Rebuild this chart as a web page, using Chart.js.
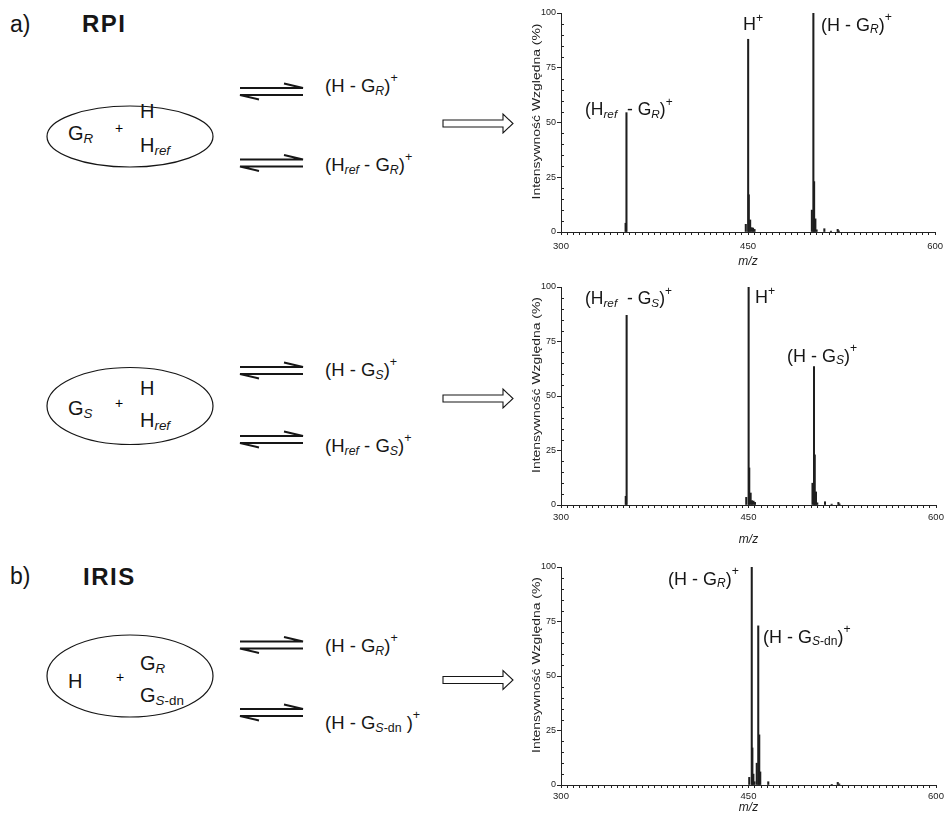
<!DOCTYPE html>
<html><head><meta charset="utf-8">
<title>RPI / IRIS</title>
<script src="https://cdn.jsdelivr.net/npm/chart.js@4.4.1/dist/chart.umd.min.js"></script>
<style>
html,body{margin:0;padding:0;background:#fff;}
body{width:949px;height:817px;position:relative;overflow:hidden;font-family:"Liberation Sans",Arial,Helvetica,sans-serif;color:#161616;}
canvas{position:absolute;}
.t{position:absolute;white-space:nowrap;line-height:1;}
.s{font-size:0.67em;font-style:italic;position:relative;top:0.2em;}
.n{font-style:normal;}
.u{font-size:0.68em;position:relative;top:-0.8em;}
.u2{font-size:0.68em;position:relative;top:-0.62em;}
.g{margin-left:5px;}
svg{position:absolute;left:0;top:0;}
</style></head><body>
<svg width="949" height="817" xmlns="http://www.w3.org/2000/svg">
  <g fill="none" stroke="#161616" stroke-width="1.2">
    <ellipse cx="130" cy="136.5" rx="83" ry="30.5"/>
    <ellipse cx="130" cy="406" rx="83" ry="38.5"/>
    <ellipse cx="130" cy="676" rx="83" ry="41"/>
  </g>
  <g fill="none" stroke="#161616" stroke-width="2">
    <path d="M240 88H303L284 83.5"/><path d="M303 95H240L259 99.5"/>
    <path d="M240 159.5H303L284 155"/><path d="M303 166.5H240L259 171"/>
    <path d="M240 367H303L284 362.5"/><path d="M303 374H240L259 378.5"/>
    <path d="M240 436H303L284 431.5"/><path d="M303 443H240L259 447.5"/>
    <path d="M240 641.5H303L284 637"/><path d="M303 648.5H240L259 653"/>
    <path d="M240 709H303L284 704.5"/><path d="M303 716H240L259 720.5"/>
  </g>
  <g fill="#fff" stroke="#161616" stroke-width="1.1">
    <path d="M443 120H503V114L513 123.5L503 133V127H443Z"/>
    <path d="M443 395H503V389L513 398.5L503 408V402H443Z"/>
    <path d="M443 676.5H503V670.5L513 680L503 689.5V683.5H443Z"/>
  </g>
</svg>
<canvas id="c1" width="429" height="270" style="left:520px;top:0px"></canvas>
<canvas id="c2" width="429" height="273" style="left:520px;top:275px"></canvas>
<canvas id="c3" width="429" height="262" style="left:520px;top:555px"></canvas>
<script>
// ---- chart data ----
const MZ_MIN = 300, MZ_MAX = 600;
const xTickLabels = [300, 450, 600];
const yTickLabels = [0, 25, 50, 75, 100];
const yTitle = 'Intensywność Względna (%)';
const xTitle = 'm/z';

// RPI, G_R : (Href-GR)+, H+, (H-GR)+ clusters
const rpiR_mz  = [351.8, 352.5, 448.2, 450.1, 450.6, 451.7, 452.8, 454.0, 455.2, 501.2, 502.4, 503.0, 504.0, 505.0, 511.2, 516.5, 521.9, 522.8];
const rpiR_int = [4,     54.5,  3.5,   88,    17,    5.5,   2,     1.8,   1.2,   10,    100,   23,    6,     1,     1.5,   0.4,   1.2,   0.5];
// RPI, G_S
const rpiS_mz  = [351.8, 352.5, 448.2, 450.1, 450.6, 451.7, 452.8, 454.0, 455.2, 501.2, 502.4, 503.0, 504.0, 505.0, 511.2, 516.5, 521.9, 522.8];
const rpiS_int = [4,     87,    3.5,   100,   17,    5.5,   2,     1.8,   1.2,   10,    63.5,  23,    6,     1,     1.5,   0.4,   1.2,   0.5];
// IRIS : (H-GR)+, (H-GS-dn)+
const iris_mz  = [450.6, 452.6, 453.1, 453.9, 454.8, 456.6, 457.8, 458.6, 459.4, 465.8, 516.6, 521.4, 522.6];
const iris_int = [3.5,   100,   17,    5,     1.5,   10,    73,    23,    6,     1.5,   0.3,   1.2,   0.5];

// ---- text labels (x, baseline, font size, html, extra css) ----
const labelDefs = [
  [10, 32, 23, 'a)'],
  [82, 32, 24, 'RPI', 'font-weight:bold;letter-spacing:1.5px'],
  [68, 140, 20, 'G<span class="s">R</span>'],
  [115, 133, 14, '+', 'color:#000'],
  [140, 118, 20, 'H'],
  [140, 152, 20, 'H<span class="s">ref</span>'],
  [325, 93, 18.5, '(H - G<span class="s">R</span>)<span class="u">+</span>'],
  [325, 172, 18.5, '(H<span class="s">ref</span> - G<span class="s">R</span>)<span class="u">+</span>'],
  [68, 415, 20, 'G<span class="s">S</span>'],
  [115, 408, 14, '+', 'color:#000'],
  [140, 395, 20, 'H'],
  [140, 427, 20, 'H<span class="s">ref</span>'],
  [325, 377, 18.5, '(H - G<span class="s">S</span>)<span class="u">+</span>'],
  [325, 453, 18.5, '(H<span class="s">ref</span> - G<span class="s">S</span>)<span class="u">+</span>'],
  [10, 584, 23, 'b)'],
  [83, 585, 24, 'IRIS', 'font-weight:bold;letter-spacing:1.5px'],
  [68, 688, 20, 'H'],
  [116, 682, 14, '+', 'color:#000'],
  [140, 670, 20, 'G<span class="s">R</span>'],
  [140, 702, 20, 'G<span class="s">S<span class="n">-dn</span></span>'],
  [325, 653, 18.5, '(H - G<span class="s">R</span>)<span class="u">+</span>'],
  [325, 730, 18.5, '(H - G<span class="s">S<span class="n">-dn</span></span> )<span class="u">+</span>'],
  [585, 116, 17.5, '(H<span class="s">ref</span><span class="g"></span> - G<span class="s">R</span>)<span class="u">+</span>'],
  [743, 30, 18, 'H<span class="u2">+</span>'],
  [821, 31, 18, '(H - G<span class="s">R</span>)<span class="u">+</span>'],
  [585, 305, 17.5, '(H<span class="s">ref</span><span class="g"></span> - G<span class="s">S</span>)<span class="u">+</span>'],
  [755, 303, 18, 'H<span class="u2">+</span>'],
  [787, 362, 18, '(H - G<span class="s">S</span>)<span class="u">+</span>'],
  [668, 585, 18, '(H - G<span class="s">R</span>)<span class="u">+</span>'],
  [763, 643, 18, '(H - G<span class="s">S<span class="n">-dn</span></span>)<span class="u">+</span>']
];
labelDefs.forEach(([x, base, fs, html, extra]) => {
  const d = document.createElement('div');
  d.className = 't';
  d.style.left = x + 'px';
  d.style.top = (base - 0.8465 * fs) + 'px';
  d.style.fontSize = fs + 'px';
  if (extra) d.style.cssText += ';' + extra;
  d.innerHTML = html;
  document.body.appendChild(d);
});

// ---- Chart.js ----
const FONT = '"Liberation Sans", Arial, Helvetica, sans-serif';
Chart.defaults.font.family = FONT;
Chart.defaults.color = '#222';

const spectrumAxes = {
  id: 'spectrumAxes',
  afterDraw(chart) {
    const {ctx, chartArea, scales: {y}} = chart;
    ctx.save();
    ctx.strokeStyle = '#222';
    ctx.lineWidth = 1;
    // minor y ticks drawn inward
    y.ticks.forEach(t => {
      if (yTickLabels.includes(t.value)) return;
      const py = Math.round(y.getPixelForValue(t.value)) + 0.5;
      ctx.beginPath();
      ctx.moveTo(chartArea.left, py);
      ctx.lineTo(chartArea.left + 3, py);
      ctx.stroke();
    });
    // y-axis title
    ctx.fillStyle = '#222';
    ctx.font = '10px ' + FONT;
    const w = ctx.measureText(yTitle).width;
    ctx.translate(17, (chartArea.top + chartArea.bottom) / 2 - 11);
    ctx.rotate(-Math.PI / 2);
    ctx.scale(176 / w, 1);
    ctx.textAlign = 'center';
    ctx.textBaseline = 'middle';
    ctx.fillText(yTitle, 0, 0);
    ctx.restore();
  }
};

function makeSpectrum(id, mz, inten, cfg) {
  const canvas = document.getElementById(id);
  const data = mz.map((m, i) => ({x: m, y: inten[i]}));
  return new Chart(canvas, {
    type: 'bar',
    data: {datasets: [{data, backgroundColor: '#1e1e1e', borderWidth: 0, barThickness: 1.4}]},
    options: {
      responsive: false,
      animation: false,
      layout: {padding: {top: cfg.padTop, right: 13, left: 0, bottom: 0}},
      plugins: {legend: {display: false}, tooltip: {enabled: false}},
      scales: {
        x: {
          type: 'linear', min: MZ_MIN, max: MZ_MAX, offset: false,
          afterFit: s => { s.height = cfg.xh; },
          ticks: {
            stepSize: 5, autoSkip: false, maxRotation: 0, minRotation: 0,
            padding: cfg.tickPad, font: {size: 9.5}, color: '#222',
            callback: v => xTickLabels.includes(v) ? String(v) : ''
          },
          grid: {display: true, drawOnChartArea: false, drawTicks: true, tickLength: 3, color: '#222', offset: false},
          border: {display: true, color: '#222', width: 1},
          title: {display: true, text: xTitle, font: {size: 12, style: 'italic'}, color: '#222', padding: {top: 0, bottom: cfg.titlePad}}
        },
        y: {
          min: 0, max: 100,
          afterFit: s => { s.width = 41; },
          ticks: {
            stepSize: 5, autoSkip: false, padding: 1, font: {size: 9}, color: '#222',
            callback: v => yTickLabels.includes(v) ? String(v) : ''
          },
          grid: {
            display: true, drawOnChartArea: false, drawTicks: true, tickLength: 4,
            color: c => (c.tick && yTickLabels.includes(c.tick.value)) ? '#222' : 'rgba(0,0,0,0)'
          },
          border: {display: true, color: '#222', width: 1},
          title: {display: false}
        }
      }
    },
    plugins: [spectrumAxes]
  });
}

makeSpectrum('c1', rpiR_mz, rpiR_int, {padTop: 13, xh: 38, tickPad: 6, titlePad: 0.8});
makeSpectrum('c2', rpiS_mz, rpiS_int, {padTop: 12, xh: 43, tickPad: 4, titlePad: 0.8});
makeSpectrum('c3', iris_mz, iris_int, {padTop: 12, xh: 32, tickPad: 2.5, titlePad: 1.8});
</script>
</body></html>
